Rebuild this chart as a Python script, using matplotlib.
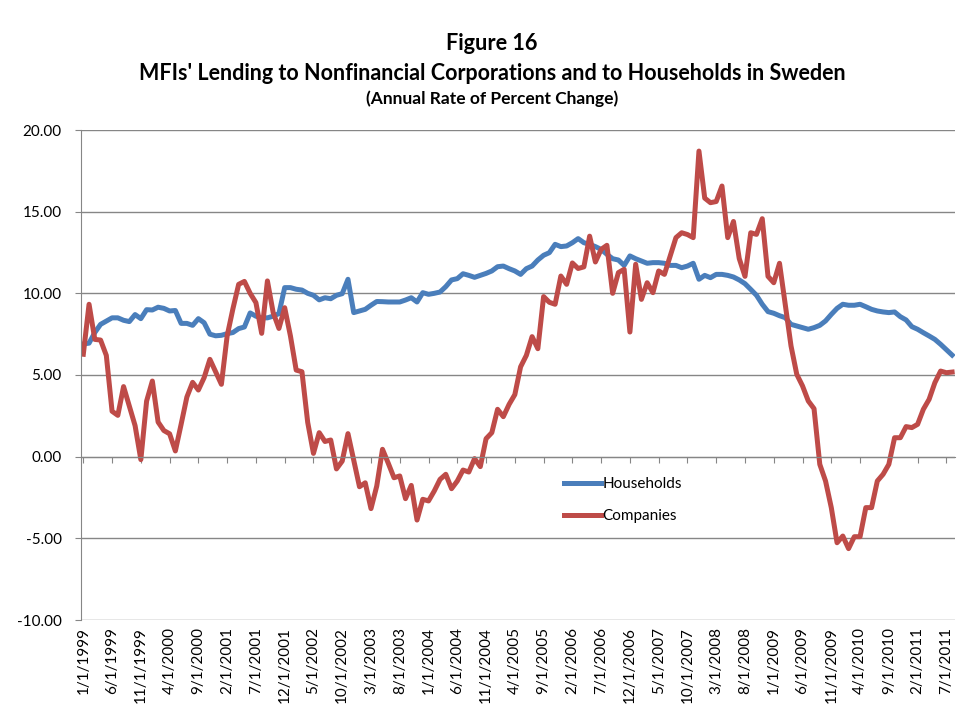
import numpy as np
import matplotlib
matplotlib.use("Agg")
import matplotlib.pyplot as plt

plt.rcParams['font.family'] = ['Lato', 'DejaVu Sans']

# monthly data, 1/1999 .. 8/2011
households = [6.9, 6.95, 7.6, 8.1, 8.3, 8.5, 8.5, 8.35, 8.27, 8.7,
              8.45, 9.0, 8.98, 9.15, 9.08, 8.92, 8.95, 8.16, 8.16, 8.04,
              8.45, 8.2, 7.5, 7.4, 7.43, 7.53, 7.6, 7.84, 7.94, 8.8,
              8.6, 8.5, 8.5, 8.6, 8.76, 10.35, 10.35, 10.25, 10.2, 10.0,
              9.88, 9.6, 9.73, 9.67, 9.88, 9.98, 10.86, 8.82, 8.92, 9.02,
              9.27, 9.5, 9.49, 9.47, 9.47, 9.47, 9.59, 9.73, 9.47, 10.04,
              9.94, 10.0, 10.08, 10.41, 10.82, 10.9, 11.2, 11.1, 10.98, 11.1,
              11.22, 11.37, 11.63, 11.67, 11.51, 11.37, 11.16, 11.51, 11.67, 12.04,
              12.33, 12.49, 13.0, 12.86, 12.9, 13.1, 13.35, 13.1, 13.0, 12.86,
              12.69, 12.39, 12.12, 12.04, 11.71, 12.29, 12.12, 11.98, 11.84, 11.88,
              11.88, 11.84, 11.71, 11.71, 11.57, 11.67, 11.84, 10.86, 11.1, 10.96,
              11.16, 11.16, 11.1, 11.0, 10.82, 10.59, 10.24, 9.88, 9.33, 8.88,
              8.78, 8.63, 8.51, 8.1, 8.0, 7.9, 7.8, 7.9, 8.04, 8.31,
              8.71, 9.08, 9.33, 9.27, 9.27, 9.33, 9.18, 9.02, 8.92, 8.86,
              8.82, 8.86, 8.57, 8.37, 7.96, 7.8, 7.59, 7.39, 7.18, 6.88,
              6.55, 6.22]

companies = [6.27, 9.33, 7.18, 7.14, 6.2, 2.78, 2.53, 4.29, 3.1, 1.9,
             -0.18, 3.4, 4.63, 2.12, 1.6, 1.4, 0.35, 1.98, 3.65, 4.55,
             4.08, 4.84, 5.96, 5.2, 4.43, 7.39, 9.05, 10.55, 10.73, 10.0,
             9.43, 7.55, 10.76, 8.82, 7.85, 9.12, 7.39, 5.3, 5.2, 2.1,
             0.2, 1.47, 0.93, 1.02, -0.75, -0.27, 1.41, -0.2, -1.84, -1.6,
             -3.18, -1.8, 0.45, -0.4, -1.29, -1.18, -2.57, -1.76, -3.88, -2.61,
             -2.71, -2.1, -1.39, -1.08, -1.96, -1.49, -0.82, -0.94, -0.12, -0.61,
             1.1, 1.47, 2.9, 2.45, 3.2, 3.8, 5.5, 6.2, 7.35, 6.61,
             9.8, 9.45, 9.33, 11.06, 10.55, 11.86, 11.52, 11.62, 13.5, 11.92,
             12.69, 12.94, 10.0, 11.27, 11.47, 7.63, 11.78, 9.63, 10.65, 10.04,
             11.37, 11.16, 12.29, 13.41, 13.71, 13.6, 13.41, 18.71, 15.83, 15.55,
             15.62, 16.57, 13.41, 14.4, 12.13, 11.04, 13.71, 13.61, 14.57, 11.04,
             10.65, 11.84, 9.3, 6.78, 5.04, 4.33, 3.41, 2.94, -0.47, -1.49,
             -3.12, -5.27, -4.86, -5.63, -4.9, -4.9, -3.12, -3.12, -1.49, -1.08,
             -0.47, 1.16, 1.16, 1.84, 1.78, 1.98, 2.9, 3.51, 4.53, 5.24,
             5.14, 5.18]

tick_labels = ['1/1/1999', '6/1/1999', '11/1/1999', '4/1/2000', '9/1/2000',
               '2/1/2001', '7/1/2001', '12/1/2001', '5/1/2002', '10/1/2002',
               '3/1/2003', '8/1/2003', '1/1/2004', '6/1/2004', '11/1/2004',
               '4/1/2005', '9/1/2005', '2/1/2006', '7/1/2006', '12/1/2006',
               '5/1/2007', '10/1/2007', '3/1/2008', '8/1/2008', '1/1/2009',
               '6/1/2009', '11/1/2009', '4/1/2010', '9/1/2010', '2/1/2011',
               '7/1/2011']

x = np.arange(len(households))
ticks = np.arange(0, len(households), 5)

grey = '#868686'
fig = plt.figure(figsize=(9.61, 7.09), dpi=100)
ax = fig.add_axes([81/961, 1 - 620/709, 874/961, 490/709])

ax.plot(x, households, color='#4A7EBB', lw=3.6, solid_joinstyle='round', label='Households')
ax.plot(x, companies, color='#BE4B48', lw=3.6, solid_joinstyle='round', label='Companies')

ax.set_ylim(-10, 20)
ax.set_xlim(-0.4, 151.5)
ax.set_yticks(np.arange(-10, 21, 5))
ax.set_yticklabels([f'{v:.2f}' for v in np.arange(-10, 21, 5)])
ax.yaxis.grid(True, color=grey, lw=1)
ax.set_axisbelow(True)
ax.tick_params(axis='y', length=4, color=grey, labelsize=11, pad=10)

for s in ['top', 'right']:
    ax.spines[s].set_visible(False)
ax.spines['left'].set_color(grey)
ax.spines['bottom'].set_position(('data', 0))
ax.spines['bottom'].set_color(grey)
ax.set_xticks(ticks)
ax.tick_params(axis='x', length=4, color=grey, labelbottom=False)

sec = ax.secondary_xaxis('bottom')
sec.set_xticks(ticks)
sec.set_xticklabels(tick_labels, rotation=90, fontsize=11)
sec.tick_params(length=0, pad=5)
sec.spines['bottom'].set_visible(False)

ax.legend(loc='upper left', bbox_to_anchor=(0.537, 0.32), frameon=False,
          fontsize=11, handlelength=2.4, labelspacing=1.2, handletextpad=0.1)

fig.text(0.512, 1 - 43/709, 'Figure 16', ha='center', va='center',
         fontsize=15.6, fontweight='bold')
fig.text(0.512, 1 - 73/709, "MFIs' Lending to Nonfinancial Corporations and to Households in Sweden",
         ha='center', va='center', fontsize=15.5, fontweight='bold')
fig.text(0.512, 1 - 99/709, '(Annual Rate of Percent Change)', ha='center', va='center',
         fontsize=12.5, fontweight='bold')

fig.savefig('out.png', dpi=100)
